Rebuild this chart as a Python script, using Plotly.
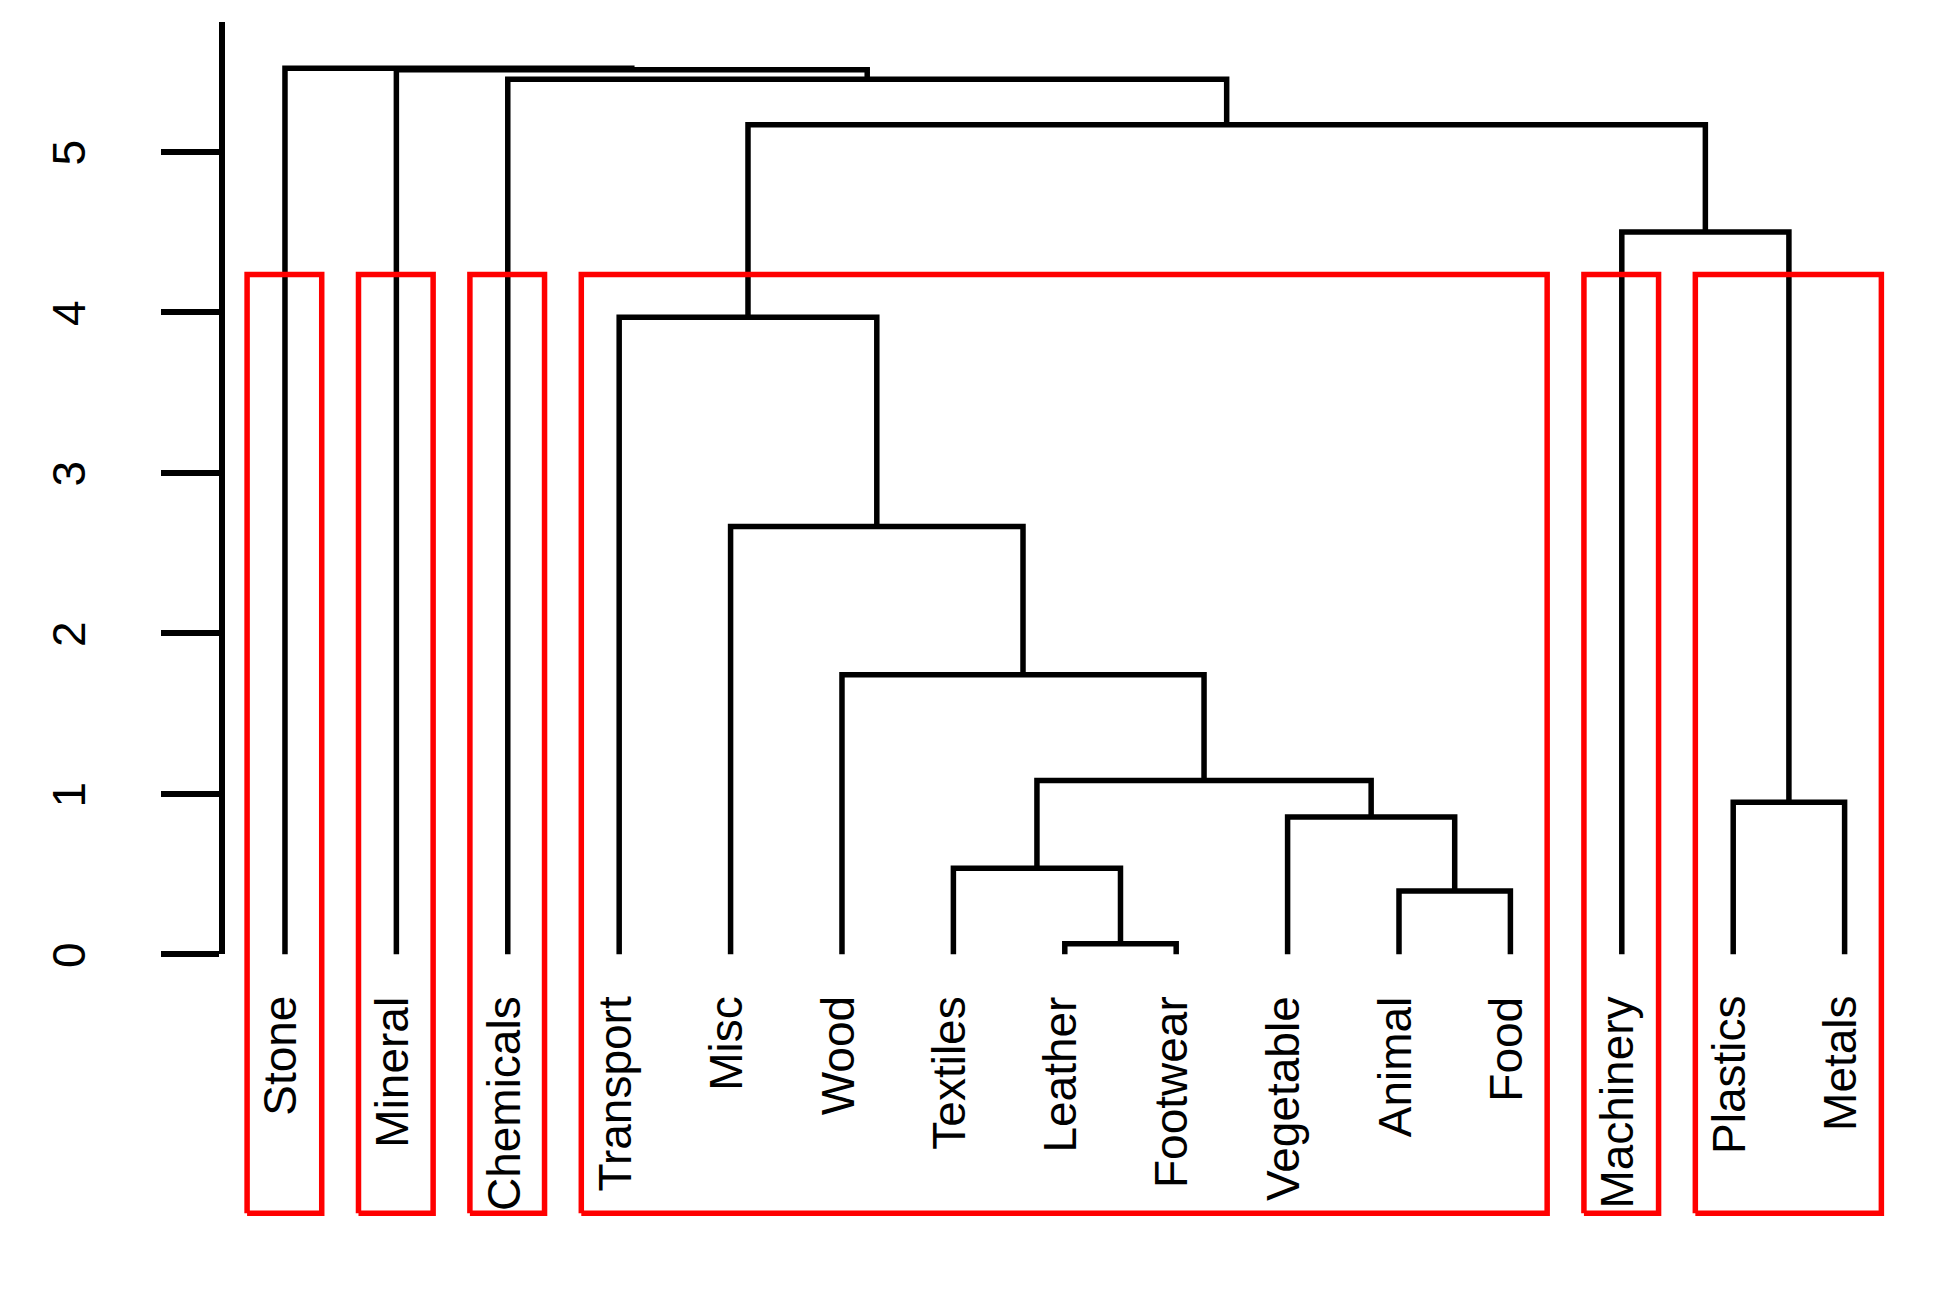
import plotly.graph_objects as go

# ---- data -------------------------------------------------------------
leaves = ["Stone", "Mineral", "Chemicals", "Transport", "Misc", "Wood",
          "Textiles", "Leather", "Footwear", "Vegetable", "Animal", "Food",
          "Machinery", "Plastics", "Metals"]

# merges: (left child, right child, height); ints refer to earlier merges (1-based)
merge_left = ["Leather", "Animal", "Textiles", "Vegetable", "Plastics", 3, "Wood",
              "Misc", "Transport", "Machinery", 9, "Chemicals", "Mineral", "Stone"]
merge_right = ["Footwear", "Food", 1, 2, "Metals", 4, 6, 7, 8, 5, 10, 11, 12, 13]
merge_height = [0.065, 0.393, 0.535, 0.855, 0.946, 1.082, 1.741, 2.664, 3.968,
                4.500, 5.167, 5.451, 5.511, 5.520]

n_clusters = 6
yticks = [0, 1, 2, 3, 4, 5]

# ---- figure geometry ---------------------------------------------------
W, H = 1951, 1292
x_range = [-1.558, 15.955]
y_range = [-2.018, 5.945]
y_bottom = -1.615          # bottom of plot region (cluster boxes reach it)
axis_top = 5.809
label_y = -0.25

LINE = "#000000"
RED = "#FF0000"
FONT = "Liberation Sans, Arial, Helvetica, sans-serif"

pos = {name: i + 1 for i, name in enumerate(leaves)}

def node_xy(ref, nodes):
    if isinstance(ref, int):
        return nodes[ref - 1]
    return (pos[ref], 0.0)

def node_leaves(ref, members):
    if isinstance(ref, int):
        return members[ref - 1]
    return [ref]

nodes, members = [], []
xs, ys = [], []
for l, r, h in zip(merge_left, merge_right, merge_height):
    xl, hl = node_xy(l, nodes)
    xr, hr = node_xy(r, nodes)
    xs += [xl, xl, xr, xr, None]
    ys += [hl, h, h, hr, None]
    nodes.append(((xl + xr) / 2, h))
    members.append(node_leaves(l, members) + node_leaves(r, members))

fig = go.Figure()
fig.add_trace(go.Scatter(x=xs, y=ys, mode="lines",
                         line=dict(color=LINE, width=5.5), hoverinfo="skip",
                         showlegend=False))

# ---- cluster rectangles (cut into n_clusters) ---------------------------
hs = sorted(merge_height, reverse=True)
rect_top = (hs[n_clusters - 2] + hs[n_clusters - 1]) / 2
cut = set(range(len(merge_height) - (n_clusters - 1), len(merge_height)))
clusters = []
for idx in sorted(cut):
    for ch in (merge_left[idx], merge_right[idx]):
        if isinstance(ch, int) and (ch - 1) in cut:
            continue
        clusters.append(node_leaves(ch, members))
rx, ry = [], []
for c in clusters:
    idxs = [pos[n] for n in c]
    a, b = min(idxs) - 0.34, max(idxs) + 0.33
    rx += [a, b, b, a, a, None]
    ry += [y_bottom, y_bottom, rect_top, rect_top, y_bottom, None]
fig.add_trace(go.Scatter(x=rx, y=ry, mode="lines",
                         line=dict(color=RED, width=5.5), hoverinfo="skip",
                         showlegend=False))

# ---- leaf labels -------------------------------------------------------
for name in leaves:
    fig.add_annotation(x=pos[name] - 0.04, y=label_y, xref="x", yref="y", text=name,
                       showarrow=False, textangle=-90, xanchor="center",
                       yanchor="top", font=dict(family=FONT, size=46, color="#000"))

# ---- y axis on its own subplot (line only spans 0..axis_top) -----------
dom0 = (y_range[1] - 0) / (y_range[1] - y_range[0])
dom1 = (y_range[1] - axis_top) / (y_range[1] - y_range[0])
fig.add_trace(go.Scatter(x=[None], y=[None], xaxis="x", yaxis="y2",
                         showlegend=False, hoverinfo="skip"))

axis_px = 222
fig.update_layout(
    width=W, height=H,
    margin=dict(l=0, r=0, t=0, b=0, pad=0),
    paper_bgcolor="white", plot_bgcolor="rgba(0,0,0,0)",
    showlegend=False,
    xaxis=dict(range=x_range, visible=False, domain=[0, 1]),
    yaxis=dict(range=y_range, visible=False, domain=[0, 1]),
    yaxis2=dict(range=[0, axis_top], domain=[1 - dom0, 1 - dom1],
                anchor="free", position=axis_px / W,
                showline=True, linecolor=LINE, linewidth=5.5,
                showgrid=False, zeroline=False,
                tickmode="array", tickvals=yticks, ticktext=[str(t) for t in yticks],
                ticks="outside", ticklen=58, tickwidth=5.5, tickcolor=LINE,
                tickangle=-90, ticklabelstandoff=58, ticklabelshift=8,
                tickfont=dict(family=FONT, size=46, color="#000")),
)

fig.write_html("out.html", config={"displayModeBar": False},
               post_script="document.body.style.margin='0';")
